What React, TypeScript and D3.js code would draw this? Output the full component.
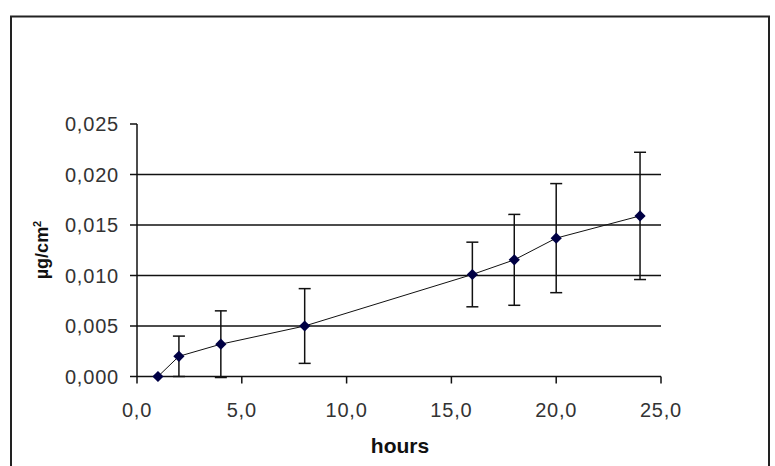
import React from 'react';
import * as d3 from 'd3';

// sampling times and mean values (µg/cm²) with their error bar half-widths
const hours = [1, 2, 4, 8, 16, 18, 20, 24];
const means = [0.0, 0.002, 0.0032, 0.005, 0.0101, 0.01155, 0.0137, 0.0159];
const errs = [0, 0.002, 0.0033, 0.0037, 0.0032, 0.0045, 0.0054, 0.0063];
const xTicks = [0, 5, 10, 15, 20, 25];
const yTicks = [0, 0.005, 0.01, 0.015, 0.02, 0.025];

const W = 775;
const H = 466;
const font = 'Arial, "Liberation Sans", sans-serif';

const App = () => {
    const x = d3.scaleLinear().domain([0, 25]).range([137, 661]);
    const y = d3.scaleLinear().domain([0, 0.025]).range([376.5, 124]);

    const fmtY = (v: number) => d3.format('.3f')(v).replace('.', ',');
    const fmtX = (v: number) => d3.format('.1f')(v).replace('.', ',');

    const pts = hours.map((h, i) => ({ h, m: means[i], e: errs[i] }));
    const line = d3.line<any>().x(d => x(d.h)).y(d => y(d.m));
    const diamond = d3.symbol().type(d3.symbolDiamond2).size(80)();

    return (
        <svg width={W} height={H} style={{ position: 'absolute', left: 0, top: 0, background: '#fff' }}>
            {/* chart frame */}
            <rect x={11} y={16.5} width={758} height={460} fill="none" stroke="#222" strokeWidth={2} />

            {/* gridlines */}
            {yTicks.filter(t => t > 0 && t < 0.025).map(t => (
                <line key={'g' + t} x1={x(0)} x2={x(25)} y1={y(t)} y2={y(t)} stroke="#111" strokeWidth={1.6} />
            ))}

            {/* y axis */}
            <line x1={x(0)} x2={x(0)} y1={y(0.025)} y2={y(0)} stroke="#111" strokeWidth={1.5} />
            {yTicks.map(t => (
                <g key={'y' + t}>
                    <line x1={x(0) - 7} x2={x(0)} y1={y(t)} y2={y(t)} stroke="#111" strokeWidth={1.5} />
                    <text x={119} y={y(t)} dy="0.36em" textAnchor="end" fontFamily={font} fontSize={20} letterSpacing={0.8} fill="#333">
                        {fmtY(t)}
                    </text>
                </g>
            ))}

            {/* x axis */}
            <line x1={x(0)} x2={x(25)} y1={y(0)} y2={y(0)} stroke="#111" strokeWidth={1.5} />
            {xTicks.map(t => (
                <g key={'x' + t}>
                    <line x1={x(t)} x2={x(t)} y1={y(0)} y2={y(0) + 7} stroke="#111" strokeWidth={1.5} />
                    <text x={x(t)} y={417} textAnchor="middle" fontFamily={font} fontSize={20} letterSpacing={0.8} fill="#333">
                        {fmtX(t)}
                    </text>
                </g>
            ))}

            {/* axis titles */}
            <text x={400} y={453} textAnchor="middle" fontFamily={font} fontSize={21} fontWeight="bold" fill="#111">
                hours
            </text>
            <text transform={`translate(48,250) rotate(-90)`} textAnchor="middle" fontFamily={font} fontSize={18} fontWeight="bold" fill="#111">
                µg/cm<tspan fontSize={11} dy={-7}>2</tspan>
            </text>

            {/* error bars */}
            {pts.filter(p => p.e > 0).map(p => (
                <g key={'e' + p.h} stroke="#111" strokeWidth={1.5}>
                    <line x1={x(p.h)} x2={x(p.h)} y1={y(p.m + p.e)} y2={y(Math.max(p.m - p.e, 0))} />
                    <line x1={x(p.h) - 6} x2={x(p.h) + 6} y1={y(p.m + p.e)} y2={y(p.m + p.e)} />
                    <line x1={x(p.h) - 6} x2={x(p.h) + 6} y1={y(p.m - p.e)} y2={y(p.m - p.e)} />
                </g>
            ))}

            {/* series */}
            <path d={line(pts) || ''} fill="none" stroke="#111" strokeWidth={1} />
            {pts.map(p => (
                <path key={'p' + p.h} d={diamond || ''} transform={`translate(${x(p.h)},${y(p.m)})`} fill="#000044" />
            ))}
        </svg>
    );
};

export default App;
